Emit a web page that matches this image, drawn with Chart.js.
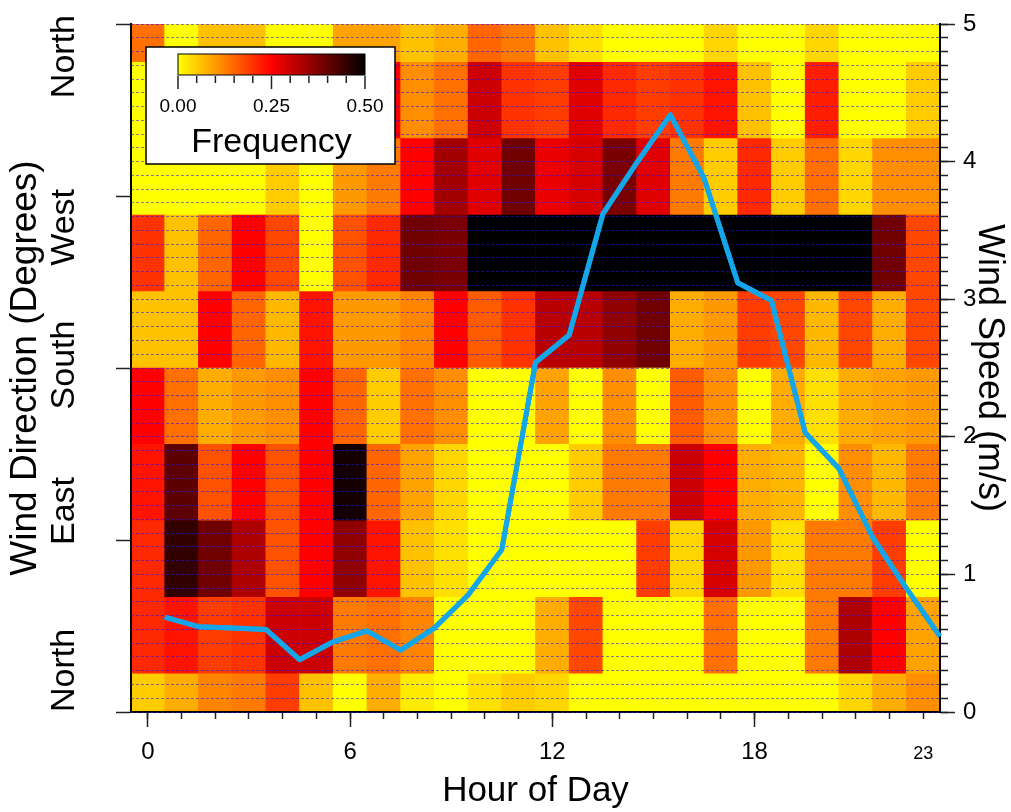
<!DOCTYPE html>
<html>
<head>
<meta charset="utf-8">
<script src="https://cdn.jsdelivr.net/npm/chart.js@4.4.1/dist/chart.umd.min.js"></script>
<style>
  html, body { margin: 0; padding: 0; background: #fff; }
  #wrap { width: 1011px; height: 812px; }
</style>
</head>
<body>
<div id="wrap"><canvas id="chart"></canvas></div>
<script>
Chart.defaults.font.family = "'Liberation Sans', Arial, sans-serif";
Chart.defaults.color = '#000';

const hours = [0, 1, 2, 3, 4, 5, 6, 7, 8, 9, 10, 11, 12, 13, 14, 15, 16, 17, 18, 19, 20, 21, 22, 23];
const hourLabelValues = [0, 6, 12, 18, 23];
const dirEdges = [0, 20, 60, 100, 140, 180, 220, 260, 300, 340, 360];
const dirTicks = [0, 90, 180, 270, 360];
const dirLabels = ['North', 'East', 'South', 'West', 'North'];
const speedTicks = [0, 1, 2, 3, 4, 5];
const legendTicks = [0, 0.25, 0.5];

// frequency per hour for each wind direction bin (degrees)
const f000_020 = [0.05, 0.08, 0.12, 0.13, 0.19, 0.06, 0.00, 0.08, 0.02, 0.00, 0.03, 0.05, 0.04, 0.00, 0.00, 0.00, 0.00, 0.00, 0.00, 0.00, 0.00, 0.04, 0.08, 0.11];
const f020_060 = [0.21, 0.23, 0.19, 0.20, 0.30, 0.30, 0.13, 0.14, 0.12, 0.00, 0.00, 0.00, 0.08, 0.18, 0.00, 0.00, 0.00, 0.14, 0.00, 0.00, 0.13, 0.33, 0.25, 0.09];
const f060_100 = [0.21, 0.45, 0.39, 0.33, 0.17, 0.25, 0.36, 0.23, 0.06, 0.03, 0.00, 0.00, 0.00, 0.00, 0.00, 0.19, 0.04, 0.29, 0.10, 0.03, 0.13, 0.13, 0.19, 0.00];
const f100_140 = [0.23, 0.41, 0.17, 0.25, 0.17, 0.25, 0.48, 0.15, 0.09, 0.04, 0.00, 0.00, 0.00, 0.05, 0.13, 0.13, 0.30, 0.25, 0.08, 0.07, 0.00, 0.11, 0.07, 0.13];
const f140_180 = [0.25, 0.14, 0.08, 0.10, 0.11, 0.25, 0.15, 0.05, 0.14, 0.11, 0.00, 0.00, 0.09, 0.00, 0.11, 0.00, 0.16, 0.11, 0.00, 0.08, 0.03, 0.08, 0.09, 0.10];
const f180_220 = [0.06, 0.06, 0.25, 0.15, 0.07, 0.23, 0.10, 0.10, 0.12, 0.25, 0.16, 0.20, 0.32, 0.32, 0.36, 0.39, 0.08, 0.10, 0.19, 0.18, 0.07, 0.18, 0.08, 0.18];
const f220_260 = [0.20, 0.06, 0.15, 0.25, 0.18, 0.00, 0.17, 0.21, 0.39, 0.38, 0.55, 0.55, 0.55, 0.55, 0.55, 0.55, 0.55, 0.55, 0.55, 0.55, 0.55, 0.55, 0.39, 0.18];
const f260_300 = [0.00, 0.00, 0.00, 0.00, 0.05, 0.00, 0.10, 0.13, 0.25, 0.34, 0.28, 0.39, 0.27, 0.29, 0.38, 0.28, 0.13, 0.05, 0.21, 0.05, 0.14, 0.04, 0.11, 0.11];
const f300_340 = [0.00, 0.05, 0.03, 0.08, 0.06, 0.10, 0.04, 0.25, 0.11, 0.14, 0.30, 0.20, 0.19, 0.28, 0.21, 0.19, 0.20, 0.23, 0.06, 0.00, 0.22, 0.00, 0.00, 0.05];
const f340_360 = [0.14, 0.00, 0.06, 0.06, 0.00, 0.00, 0.09, 0.09, 0.06, 0.08, 0.15, 0.13, 0.06, 0.03, 0.00, 0.00, 0.00, 0.04, 0.00, 0.00, 0.04, 0.00, 0.00, 0.00];

// mean wind speed (m/s), one value per hour
const windSpeed = [0.69, 0.62, 0.61, 0.60, 0.38, 0.51, 0.59, 0.45, 0.61, 0.85, 1.18, 2.54, 2.74, 3.62, 3.99, 4.34, 3.88, 3.12, 2.99, 2.03, 1.77, 1.27, 0.90, 0.55];

const freqMax = 0.5;
const freqByBin = [f000_020, f020_060, f060_100, f100_140, f140_180, f180_220, f220_260, f260_300, f300_340, f340_360];

// yellow -> red -> black
function heatColor(f) {
    const t = Math.min(Math.max(f / freqMax, 0), 1);
    if (t < 0.5) return `rgb(255,${Math.round(255 * (1 - t * 2))},0)`;
    return `rgb(${Math.round(255 * (1 - (t - 0.5) * 2))},0,0)`;
}

const heatDatasets = freqByBin.map((row, i) => ({
    type: 'bar',
    label: dirEdges[i] + '-' + dirEdges[i + 1],
    data: hours.map(h => ({ x: h, y: [dirEdges[i], dirEdges[i + 1]] })),
    backgroundColor: row.map(heatColor),
    borderWidth: 0,
    grouped: false,
    barPercentage: 1,
    categoryPercentage: 1,
    xAxisID: 'x',
    yAxisID: 'y',
    order: 2
}));

const speedDataset = {
    type: 'line',
    label: 'Wind Speed',
    data: windSpeed.map((v, i) => ({ x: hours[i] + 0.5, y: v })),
    borderColor: '#14a6e9',
    borderWidth: 5,
    borderJoinStyle: 'round',
    pointRadius: 0,
    tension: 0,
    xAxisID: 'x',
    yAxisID: 'y2',
    order: 1
};

const overlay = {
    id: 'overlay',
    afterDraw(chart) {
        const ctx = chart.ctx;
        const ca = chart.chartArea;

        // line back on top of the dotted grid
        const meta = chart.getDatasetMeta(chart.data.datasets.length - 1);
        meta.controller.draw();

        // direction labels, rotated
        const yScale = chart.scales.y;
        const align = ['left', 'left', 'center', 'right', 'right'];
        const shift = [0, 5, -3, -7, -9];
        ctx.save();
        ctx.fillStyle = '#000';
        ctx.font = "34px 'Liberation Sans', Arial, sans-serif";
        ctx.textBaseline = 'middle';
        dirTicks.forEach((v, i) => {
            ctx.save();
            ctx.translate(65, yScale.getPixelForValue(v) + shift[i]);
            ctx.rotate(-Math.PI / 2);
            ctx.textAlign = align[i];
            ctx.fillText(dirLabels[i], 0, 0);
            ctx.restore();
        });
        ctx.restore();

        // colour bar legend
        const bx = ca.left + 15, by = ca.top + 23, bw = 249, bh = 117;
        ctx.save();
        ctx.fillStyle = '#fff';
        ctx.fillRect(bx, by, bw, bh);
        ctx.strokeStyle = '#000';
        ctx.lineWidth = 1.5;
        ctx.strokeRect(bx, by, bw, bh);

        const cx = bx + 32, cy = by + 7, cw = 187, chh = 21;
        const grad = ctx.createLinearGradient(cx, 0, cx + cw, 0);
        for (let k = 0; k <= 20; k++) grad.addColorStop(k / 20, heatColor(freqMax * k / 20));
        ctx.fillStyle = grad;
        ctx.fillRect(cx, cy, cw, chh);
        ctx.lineWidth = 1;
        ctx.strokeRect(cx, cy, cw, chh);

        ctx.strokeStyle = '#222';
        ctx.lineWidth = 1.5;
        for (let k = 0; k <= 10; k++) {
            const tx = cx + cw * k / 10;
            const major = k % 5 === 0;
            ctx.beginPath();
            ctx.moveTo(tx, cy + chh + 1);
            ctx.lineTo(tx, cy + chh + (major ? 14 : 8));
            ctx.stroke();
        }
        ctx.fillStyle = '#000';
        ctx.textAlign = 'center';
        ctx.textBaseline = 'middle';
        ctx.font = "19px 'Liberation Sans', Arial, sans-serif";
        legendTicks.forEach(v => {
            ctx.fillText(v.toFixed(2), cx + cw * v / freqMax, cy + 53);
        });
        ctx.font = "34px 'Liberation Sans', Arial, sans-serif";
        ctx.fillText('Frequency', cx + cw / 2, cy + 89);
        ctx.restore();
    }
};

new Chart(document.getElementById('chart'), {
    type: 'bar',
    data: { datasets: [...heatDatasets, speedDataset] },
    options: {
        responsive: true,
        maintainAspectRatio: false,
        animation: false,
        layout: { padding: { top: 24, left: 0, right: 0, bottom: 0 } },
        plugins: { legend: { display: false }, tooltip: { enabled: false } },
        scales: {
            x: {
                type: 'linear', axis: 'x', position: 'bottom', weight: 0,
                min: -0.5, max: 23.5, offset: false,
                afterBuildTicks: s => { s.ticks = hours.map(h => ({ value: h })); },
                afterFit: s => { s.height = 0; },
                ticks: { display: false },
                grid: { drawOnChartArea: false, offset: false, tickLength: 7, tickWidth: 1.5, tickColor: '#222' },
                border: { display: false }
            },
            xLabels: {
                type: 'linear', axis: 'x', position: 'bottom', weight: 1,
                min: -0.5, max: 23.5, offset: false,
                afterBuildTicks: s => { s.ticks = hourLabelValues.map(h => ({ value: h })); },
                afterFit: s => { s.height = 100; },
                ticks: {
                    autoSkip: false, maxRotation: 0, padding: 11,
                    callback: v => String(v),
                    font: c => (c.tick && c.tick.value === 23) ? { size: 18, lineHeight: 1.83 } : { size: 24 }
                },
                grid: {
                    drawOnChartArea: false, offset: false, tickLength: 15, tickWidth: 1.5,
                    tickColor: c => (c.tick && c.tick.value === 23) ? 'rgba(0,0,0,0)' : '#222'
                },
                border: { display: true, color: '#000', width: 2, z: 1 },
                title: { display: true, text: 'Hour of Day', font: { size: 35 }, padding: { top: 0, bottom: 0 } }
            },
            y: {
                type: 'linear', axis: 'y', position: 'left',
                min: 0, max: 360,
                afterBuildTicks: s => { s.ticks = dirTicks.map(v => ({ value: v })); },
                afterFit: s => { s.width = 131; },
                ticks: { display: false },
                grid: { drawOnChartArea: false, tickLength: 15, tickWidth: 1.5, tickColor: '#222' },
                border: { display: true, color: '#000', width: 2, z: 1 },
                title: { display: true, text: 'Wind Direction (Degrees)', font: { size: 37 }, padding: { top: 4, bottom: 0 } }
            },
            y2minor: {
                type: 'linear', axis: 'y', position: 'right', weight: 0,
                min: 0, max: 5,
                afterBuildTicks: s => { s.ticks = Array.from({ length: 51 }, (_, k) => ({ value: k / 10 })); },
                afterFit: s => { s.width = 0; },
                ticks: { display: false },
                grid: {
                    drawOnChartArea: true, z: 1, color: 'rgba(20,20,255,0.55)', lineWidth: 1,
                    tickLength: 8, tickWidth: 1.5, tickColor: '#222'
                },
                border: { display: false, dash: [3, 2] }
            },
            y2: {
                type: 'linear', axis: 'y', position: 'right', weight: 1,
                min: 0, max: 5,
                afterBuildTicks: s => { s.ticks = speedTicks.map(v => ({ value: v })); },
                afterFit: s => { s.width = 71; },
                ticks: { autoSkip: false, padding: 8, font: { size: 24 }, callback: v => String(v) },
                grid: { drawOnChartArea: false, tickLength: 15, tickWidth: 1.5, tickColor: '#222' },
                border: { display: true, color: '#000', width: 2, z: 1 },
                title: { display: true, text: 'Wind Speed (m/s)', font: { size: 36 }, padding: { top: 0, bottom: 0 } }
            }
        }
    },
    plugins: [overlay]
});
</script>
</body>
</html>
